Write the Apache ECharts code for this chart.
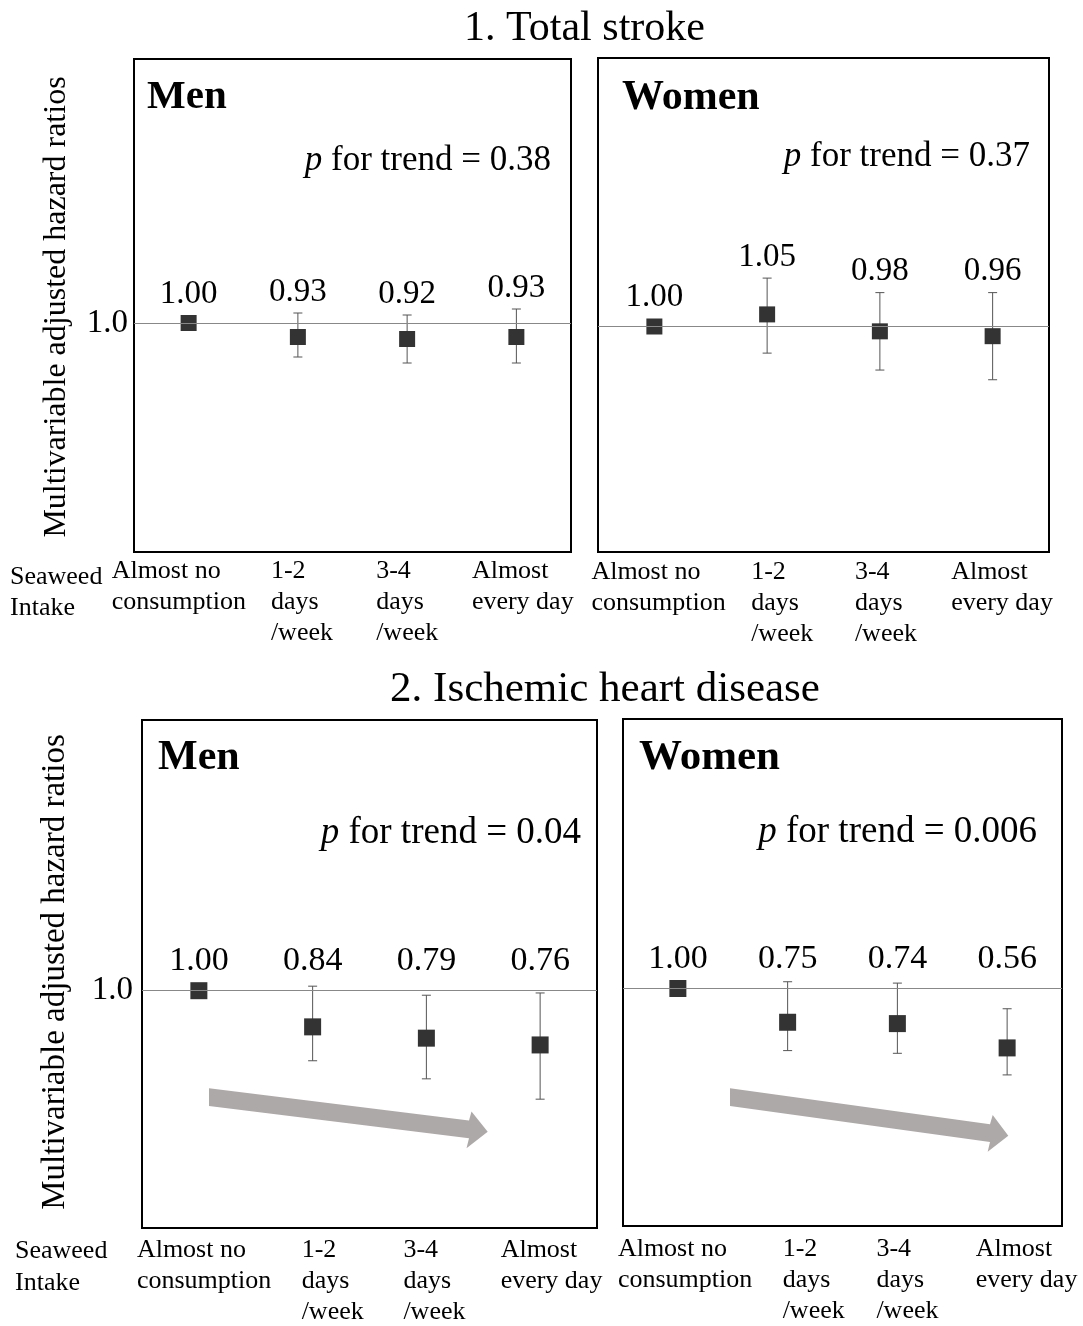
<!DOCTYPE html>
<html>
<head>
<meta charset="utf-8">
<script src="https://cdn.jsdelivr.net/npm/echarts@6/dist/echarts.min.js"></script>
<style>
html,body{margin:0;padding:0;background:#fff;}
#chart{width:1083px;height:1326px;}
</style>
</head>
<body>
<div id="chart"></div>
<script>
// ---------- data ----------
const categories = ['Almost no\nconsumption', '1-2\ndays\n/week', '3-4\ndays\n/week', 'Almost\nevery day'];

const strokeMenHR   = [1.00, 0.93, 0.92, 0.93];
const strokeMenLo   = [null, 0.83, 0.80, 0.80];
const strokeMenHi   = [null, 1.05, 1.04, 1.07];

const strokeWomenHR = [1.00, 1.05, 0.98, 0.96];
const strokeWomenLo = [null, 0.89, 0.82, 0.78];
const strokeWomenHi = [null, 1.20, 1.14, 1.14];

const ihdMenHR      = [1.00, 0.84, 0.79, 0.76];
const ihdMenLo      = [null, 0.69, 0.61, 0.52];
const ihdMenHi      = [null, 1.02, 0.98, 0.99];

const ihdWomenHR    = [1.00, 0.75, 0.74, 0.56];
const ihdWomenLo    = [null, 0.54, 0.52, 0.36];
const ihdWomenHi    = [null, 1.05, 1.04, 0.85];

const pTrend = ['0.38', '0.37', '0.04', '0.006'];
const sexLabels = ['Men', 'Women', 'Men', 'Women'];
const sectionTitles = ['1. Total stroke', '2. Ischemic heart disease'];
const yAxisTitle = 'Multivariable adjusted hazard ratios';
const refValue = 1.0;

// ---------- layout ----------
const FONT = "'Liberation Serif', 'Times New Roman', serif";
const CAT_FONT = 26;

// measure each category label block so lines can be left-aligned inside a centred block
const mctx = document.createElement('canvas').getContext('2d');
mctx.font = CAT_FONT + "px 'Liberation Serif'";
const catWidths = categories.map(c => Math.ceil(Math.max(...c.split('\n').map(s => mctx.measureText(s).width))) + 1);

const panels = [
  {hr: strokeMenHR, lo: strokeMenLo, hi: strokeMenHi, grid: {left: 134, top: 59, width: 437, height: 493}, ymin: -0.145, ymax: 2.32, sym: 16, lab: 33, margin: 4, refLabel: true, refDist: 6, shift: [-9, 5, 1, 7]},
  {hr: strokeWomenHR, lo: strokeWomenLo, hi: strokeWomenHi, grid: {left: 598, top: 58, width: 451, height: 494}, ymin: 0.0682, ymax: 2.1095, sym: 16, lab: 33, margin: 5, refLabel: false, refDist: 6, shift: [5, 16, 7, 10]},
  {hr: ihdMenHR, lo: ihdMenLo, hi: ihdMenHi, grid: {left: 142, top: 720, width: 455, height: 508}, ymin: -0.05, ymax: 2.1978, sym: 17, lab: 34, margin: 7, refLabel: true, refDist: 9, shift: [6, 21, 9, 12]},
  {hr: ihdWomenHR, lo: ihdWomenLo, hi: ihdWomenHi, grid: {left: 623, top: 719, width: 439, height: 507}, ymin: -0.759, ymax: 2.996, sym: 17, lab: 34, margin: 8, refLabel: false, refDist: 9, shift: [8, 27, 11, 20]}
];

const grids = [], xAxes = [], yAxes = [], series = [];
panels.forEach((p, k) => {
  const rich = {};
  catWidths.forEach((w, i) => {
    const d = p.shift[i];
    rich['c' + i] = {
      width: w, align: 'left', fontSize: CAT_FONT, lineHeight: 31, fontFamily: FONT, color: '#000',
      padding: d >= 0 ? [0, 0, 0, 2 * d] : [0, -2 * d, 0, 0]
    };
  });
  grids.push(Object.assign({show: true, borderColor: '#000', borderWidth: 2, backgroundColor: '#fff'}, p.grid));
  xAxes.push({
    type: 'category', gridIndex: k, data: categories, boundaryGap: true,
    axisLine: {show: false}, axisTick: {show: false}, splitLine: {show: false},
    axisLabel: {
      interval: 0, margin: p.margin, color: '#000',
      formatter: (v, idx) => v.split('\n').map(s => '{c' + idx + '|' + s + '}').join('\n'),
      rich: rich
    }
  });
  yAxes.push({type: 'value', gridIndex: k, min: p.ymin, max: p.ymax, show: false, splitLine: {show: false}});

  const pts = p.hr.map((v, i) => [i, v]);
  const ci = p.hr.map((v, i) => [i, v, p.lo[i] == null ? v : p.lo[i], p.hi[i] == null ? v : p.hi[i]]);

  series.push({
    type: 'custom', xAxisIndex: k, yAxisIndex: k, z: 2, silent: true,
    data: ci,
    renderItem: (params, api) => {
      const i = api.value(0), hr = api.value(1), lo = api.value(2), hi = api.value(3);
      const c = api.coord([i, hr]);
      const x = c[0];
      const half = p.sym / 2;
      let top = c[1] - half;
      const children = [];
      if (hi > lo) {
        const yHi = api.coord([i, hi])[1];
        const yLo = api.coord([i, lo])[1];
        const st = {stroke: '#555', lineWidth: 1};
        children.push({type: 'line', shape: {x1: x, y1: yHi, x2: x, y2: yLo}, style: st});
        children.push({type: 'line', shape: {x1: x - 4.5, y1: yHi, x2: x + 4.5, y2: yHi}, style: st});
        children.push({type: 'line', shape: {x1: x - 4.5, y1: yLo, x2: x + 4.5, y2: yLo}, style: st});
        top = Math.min(top, yHi);
      }
      const yRef = api.coord([i, refValue])[1] - half;
      top = Math.min(top, yRef);
      children.push({
        type: 'text', x: x, y: top - 21,
        style: {text: hr.toFixed(2), fontSize: p.lab, fontFamily: FONT, fill: '#000', align: 'center', verticalAlign: 'middle'}
      });
      return {type: 'group', children: children};
    }
  });
  series.push({
    type: 'scatter', xAxisIndex: k, yAxisIndex: k, z: 3, silent: true,
    symbol: 'rect', symbolSize: p.sym,
    itemStyle: {color: '#333333', opacity: 1},
    data: pts,
    markLine: {
      silent: true, symbol: ['none', 'none'], animation: false,
      lineStyle: {color: '#888', width: 1, type: 'solid'},
      label: {show: p.refLabel, position: 'start', formatter: '1.0', fontSize: 33, fontFamily: FONT, color: '#000', distance: p.refDist},
      data: [{yAxis: refValue}]
    }
  });
});

// ---------- text & decorations ----------
const txt = (x, y, text, opt) => ({
  type: 'text', x: x, y: y, silent: true, z: 10,
  scaleX: opt.scaleX || 1, rotation: opt.rotation || 0,
  style: Object.assign({text: text, fontFamily: FONT, fill: '#000', textAlign: opt.align || 'left', textVerticalAlign: opt.valign || 'middle'}, opt.style || {})
});
const pRich = (v) => '{i|p} for trend = ' + v;
const pStyle = (fs) => ({fontSize: fs, rich: {i: {fontStyle: 'italic', fontSize: fs, fontFamily: FONT}}});

const graphics = [
  txt(584.5, 29, sectionTitles[0], {align: 'center', style: {fontSize: 42}}),
  txt(605, 690, sectionTitles[1], {align: 'center', style: {fontSize: 43}}),
  txt(147, 97, sexLabels[0], {style: {fontSize: 41, fontWeight: 'bold'}}),
  txt(622, 98, sexLabels[1], {style: {fontSize: 42, fontWeight: 'bold'}}),
  txt(158, 758, sexLabels[2], {style: {fontSize: 42, fontWeight: 'bold'}}),
  txt(639, 758, sexLabels[3], {style: {fontSize: 43, fontWeight: 'bold'}}),
  txt(551, 161, pRich(pTrend[0]), {align: 'right', style: pStyle(35)}),
  txt(1030, 157, pRich(pTrend[1]), {align: 'right', style: pStyle(35)}),
  txt(581, 833, pRich(pTrend[2]), {align: 'right', style: pStyle(37)}),
  txt(1037, 832, pRich(pTrend[3]), {align: 'right', style: pStyle(37)}),
  txt(57, 307, yAxisTitle, {align: 'center', rotation: Math.PI / 2, style: {fontSize: 32}}),
  txt(55, 972, yAxisTitle, {align: 'center', rotation: Math.PI / 2, style: {fontSize: 33}}),
  txt(10, 562, 'Seaweed\nIntake', {valign: 'top', style: {fontSize: 26, lineHeight: 31}}),
  txt(15, 1235, 'Seaweed\nIntake', {valign: 'top', style: {fontSize: 26, lineHeight: 32}}),
  {type: 'polygon', silent: true, z: 1,
   shape: {points: [[209, 1088.3], [469, 1120.5], [471.5, 1111.5], [487.7, 1131.7], [466.5, 1148.3], [469, 1138.2], [209, 1106]]},
   style: {fill: '#ADA9A8'}},
  {type: 'polygon', silent: true, z: 1,
   shape: {points: [[730, 1088.3], [990, 1124.2], [992.7, 1115], [1008.3, 1135.7], [987.7, 1151.7], [990, 1141.9], [730, 1106]]},
   style: {fill: '#ADA9A8'}}
];

const chart = echarts.init(document.getElementById('chart'), null, {renderer: 'canvas'});
chart.setOption({
  backgroundColor: '#fff',
  animation: false,
  grid: grids,
  xAxis: xAxes,
  yAxis: yAxes,
  series: series,
  graphic: {elements: graphics}
});
</script>
</body>
</html>
